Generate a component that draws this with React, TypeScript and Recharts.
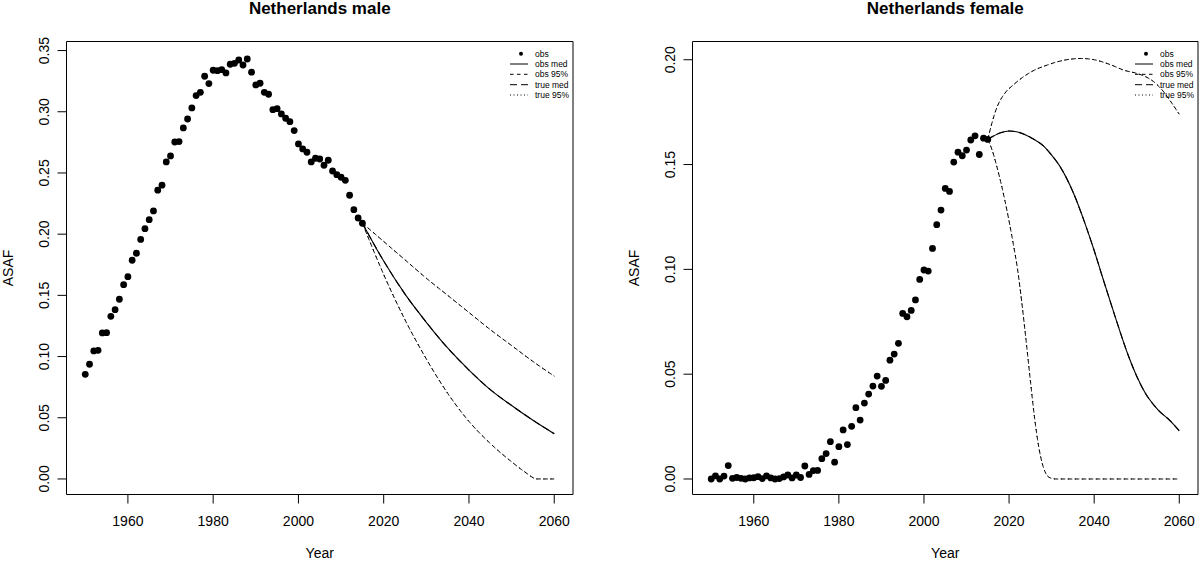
import React from 'react';
import { ComposedChart, Scatter, Line, XAxis, YAxis, ReferenceArea } from 'recharts';

// observed years (both panels)
const obsYears = [
  1950, 1951, 1952, 1953, 1954, 1955, 1956, 1957, 1958, 1959,
  1960, 1961, 1962, 1963, 1964, 1965, 1966, 1967, 1968, 1969,
  1970, 1971, 1972, 1973, 1974, 1975, 1976, 1977, 1978, 1979,
  1980, 1981, 1982, 1983, 1984, 1985, 1986, 1987, 1988, 1989,
  1990, 1991, 1992, 1993, 1994, 1995, 1996, 1997, 1998, 1999,
  2000, 2001, 2002, 2003, 2004, 2005, 2006, 2007, 2008, 2009,
  2010, 2011, 2012, 2013, 2014, 2015,
];

const maleObs = [
  0.0855, 0.0937, 0.1046, 0.1051, 0.1193, 0.1195, 0.1329, 0.1383, 0.1468, 0.1587,
  0.1653, 0.1787, 0.1844, 0.1957, 0.2045, 0.2118, 0.219, 0.2359, 0.24, 0.259,
  0.2639, 0.2753, 0.2756, 0.2868, 0.2941, 0.3031, 0.3132, 0.3159, 0.329, 0.323,
  0.3339, 0.3336, 0.3344, 0.3317, 0.3388, 0.3396, 0.3423, 0.3382, 0.3431, 0.3323,
  0.3219, 0.3233, 0.3159, 0.3143, 0.3017, 0.3025, 0.2982, 0.2947, 0.2919, 0.2846,
  0.2737, 0.2696, 0.2669, 0.259, 0.262, 0.2614, 0.2563, 0.2604, 0.2516, 0.2486,
  0.2465, 0.244, 0.2318, 0.22, 0.2132, 0.2089,
];

const femaleObs = [
  0.0, 0.0015, 0.0, 0.0014, 0.0064, 0.0003, 0.0007, 0.0003, 0.0, 0.0005,
  0.0006, 0.0011, 0.0002, 0.0015, 0.0005, 0.0, 0.0002, 0.001, 0.0019, 0.0005,
  0.0019, 0.0007, 0.0062, 0.0022, 0.004, 0.0041, 0.0097, 0.0121, 0.0178, 0.008,
  0.0154, 0.0234, 0.0164, 0.0251, 0.034, 0.0281, 0.0362, 0.0405, 0.0443, 0.0491,
  0.0442, 0.047, 0.0567, 0.0596, 0.0647, 0.079, 0.0774, 0.0804, 0.0854, 0.0952,
  0.0997, 0.0992, 0.11, 0.1213, 0.1283, 0.1386, 0.1372, 0.1512, 0.1559, 0.1542,
  0.1569, 0.1617, 0.1637, 0.1548, 0.1626, 0.162,
];

// male projections
const maleMedYears = [2015, 2020, 2025, 2030, 2035, 2040, 2045, 2050, 2055, 2060];
const maleMed = [0.209, 0.178, 0.151, 0.128, 0.107, 0.089, 0.073, 0.06, 0.048, 0.037];
const maleUpYears = [2015, 2020, 2025, 2030, 2035, 2040, 2045, 2050, 2055, 2060];
const maleUp = [0.209, 0.194, 0.179, 0.164, 0.15, 0.136, 0.122, 0.109, 0.096, 0.084];
const maleLoYears = [2015, 2020, 2025, 2030, 2035, 2040, 2045, 2050, 2053, 2056, 2060];
const maleLo = [0.209, 0.167, 0.13, 0.098, 0.07, 0.047, 0.029, 0.014, 0.006, 0.0, 0.0];

// female projections
const femaleMedYears = [2015, 2018, 2020, 2022, 2025, 2028, 2030, 2032, 2035, 2038, 2040, 2042, 2045, 2048, 2050, 2052, 2055, 2058, 2060];
const femaleMed = [0.162, 0.1652, 0.166, 0.1655, 0.163, 0.159, 0.1545, 0.149, 0.137, 0.121, 0.109, 0.096, 0.077, 0.059, 0.049, 0.041, 0.033, 0.0275, 0.023];
const femaleUpYears = [2015, 2016, 2017, 2019, 2021, 2025, 2029, 2033, 2037, 2040, 2044, 2047, 2050, 2052, 2054, 2056, 2058, 2060];
const femaleUp = [0.162, 0.17, 0.1765, 0.184, 0.188, 0.194, 0.1975, 0.1998, 0.2006, 0.2, 0.1975, 0.195, 0.1935, 0.192, 0.1895, 0.1855, 0.18, 0.174];
const femaleLoYears = [2015, 2016, 2017, 2018, 2019, 2020, 2021, 2022, 2023, 2024, 2025, 2026, 2027, 2028, 2029, 2030, 2031, 2060];
const femaleLo = [0.162, 0.157, 0.15, 0.142, 0.133, 0.123, 0.112, 0.1, 0.084, 0.066, 0.047, 0.029, 0.015, 0.006, 0.0015, 0.0003, 0.0, 0.0];

const yearTicks = [1960, 1980, 2000, 2020, 2040, 2060];
const maleTicks = [0, 0.05, 0.1, 0.15, 0.2, 0.25, 0.3, 0.35];
const femaleTicks = [0, 0.05, 0.1, 0.15, 0.2];
const legendLabels = ['obs', 'obs med', 'obs 95%', 'true med', 'true 95%'];

const FONT = '"Liberation Sans", Arial, Helvetica, sans-serif';
const X_DOMAIN = [1945.6, 2064.4];
const W = 600;
const H = 563;
const TOP = 41.5;
const BOTTOM = 494.5;

const pts = (xs: number[], ys: number[]) => xs.map((year, i) => ({ year, v: ys[i] }));

const XTick = (p: any) => (
  <text x={p.x} y={p.y + 22} textAnchor="middle" fontSize={14} fontFamily={FONT} fill="#000">
    {p.payload.value}
  </text>
);

const YTick = (p: any) => (
  <text
    x={p.x - 8}
    y={p.y}
    transform={`rotate(-90, ${p.x - 8}, ${p.y})`}
    textAnchor="middle"
    fontSize={14}
    fontFamily={FONT}
    fill="#000"
  >
    {p.payload.value.toFixed(2)}
  </text>
);

const Dot = (p: any) => <circle cx={p.cx} cy={p.cy} r={3.4} fill="#000" />;

function Panel(props: {
  title: string;
  obs: number[];
  med: { year: number; v: number }[];
  up: { year: number; v: number }[];
  lo: { year: number; v: number }[];
  yDomain: number[];
  yTicks: number[];
  left: number;
  plotLeft: number;
  plotRight: number;
}) {
  const { title, obs, med, up, lo, yDomain, yTicks, left, plotLeft, plotRight } = props;
  const obsData = pts(obsYears, obs);
  const cx = (plotLeft + plotRight) / 2;
  const lx = plotRight - 38;
  const rows = [53.7, 64, 74.3, 84.7, 95];
  return (
    <div style={{ position: 'absolute', left, top: 0, width: W, height: H }}>
      <ComposedChart
        width={W}
        height={H}
        margin={{ top: TOP, right: W - plotRight, bottom: H - BOTTOM - 40, left: plotLeft - 50 }}
      >
        <XAxis
          type="number"
          dataKey="year"
          domain={X_DOMAIN}
          ticks={yearTicks}
          interval={0}
          allowDataOverflow
          axisLine={false}
          tickLine={{ stroke: '#000' }}
          tickSize={9}
          tickMargin={0}
          height={40}
          tick={XTick}
        />
        <YAxis
          type="number"
          dataKey="v"
          domain={yDomain}
          ticks={yTicks}
          interval={0}
          allowDataOverflow
          axisLine={false}
          tickLine={{ stroke: '#000' }}
          tickSize={9}
          tickMargin={0}
          width={50}
          tick={YTick}
        />
        <ReferenceArea
          x1={X_DOMAIN[0]}
          x2={X_DOMAIN[1]}
          y1={yDomain[0]}
          y2={yDomain[1]}
          fill="none"
          stroke="#000"
          strokeWidth={1}
          ifOverflow="visible"
        />
        <Scatter data={obsData} dataKey="v" shape={Dot} isAnimationActive={false} />
        <Line data={med} dataKey="v" type="monotone" stroke="#000" strokeWidth={1.1} dot={false} isAnimationActive={false} />
        <Line data={med} dataKey="v" type="monotone" stroke="#000" strokeWidth={1.1} strokeDasharray="7 4" dot={false} isAnimationActive={false} />
        <Line data={up} dataKey="v" type="monotone" stroke="#000" strokeWidth={1} strokeDasharray="3.5 3.5" dot={false} isAnimationActive={false} />
        <Line data={lo} dataKey="v" type="monotone" stroke="#000" strokeWidth={1} strokeDasharray="3.5 3.5" dot={false} isAnimationActive={false} />
        <Line data={up} dataKey="v" type="monotone" stroke="#000" strokeWidth={1} strokeDasharray="1 2.5" dot={false} isAnimationActive={false} />
        <Line data={lo} dataKey="v" type="monotone" stroke="#000" strokeWidth={1} strokeDasharray="1 2.5" dot={false} isAnimationActive={false} />
      </ComposedChart>
      <svg
        width={W}
        height={H}
        style={{ position: 'absolute', left: 0, top: 0, pointerEvents: 'none' }}
        fontFamily={FONT}
      >
        <text x={cx} y={14} textAnchor="middle" fontSize={17} fontWeight="bold" fill="#000">
          {title}
        </text>
        <text x={cx} y={558} textAnchor="middle" fontSize={14} fill="#000">
          Year
        </text>
        <text
          x={plotLeft - 54}
          y={(TOP + BOTTOM) / 2}
          transform={`rotate(-90, ${plotLeft - 54}, ${(TOP + BOTTOM) / 2})`}
          textAnchor="middle"
          fontSize={14}
          fill="#000"
        >
          ASAF
        </text>
        {/* legend */}
        <circle cx={plotRight - 52} cy={rows[0]} r={2} fill="#000" />
        <line x1={plotRight - 63} x2={plotRight - 45} y1={rows[1]} y2={rows[1]} stroke="#000" strokeWidth={1} />
        <line x1={plotRight - 63} x2={plotRight - 45} y1={rows[2]} y2={rows[2]} stroke="#000" strokeWidth={1} strokeDasharray="3.5 3.5" />
        <line x1={plotRight - 63} x2={plotRight - 45} y1={rows[3]} y2={rows[3]} stroke="#000" strokeWidth={1} strokeDasharray="7 4" />
        <line x1={plotRight - 63} x2={plotRight - 45} y1={rows[4]} y2={rows[4]} stroke="#000" strokeWidth={1} strokeDasharray="1 2.5" />
        {legendLabels.map((l, i) => (
          <text key={l} x={lx} y={rows[i] + 3} fontSize={8.5} fill="#000">
            {l}
          </text>
        ))}
      </svg>
    </div>
  );
}

export default function App() {
  return (
    <div style={{ position: 'absolute', left: 0, top: 0, width: 1200, height: 563, background: '#fff' }}>
      <Panel
        title="Netherlands male"
        obs={maleObs}
        med={pts(maleMedYears, maleMed)}
        up={pts(maleUpYears, maleUp)}
        lo={pts(maleLoYears, maleLo)}
        yDomain={[-0.0127, 0.3574]}
        yTicks={maleTicks}
        left={0}
        plotLeft={66.5}
        plotRight={573}
      />
      <Panel
        title="Netherlands female"
        obs={femaleObs}
        med={pts(femaleMedYears, femaleMed)}
        up={pts(femaleUpYears, femaleUp)}
        lo={pts(femaleLoYears, femaleLo)}
        yDomain={[-0.0074, 0.2087]}
        yTicks={femaleTicks}
        left={600}
        plotLeft={92.5}
        plotRight={598}
      />
    </div>
  );
}
